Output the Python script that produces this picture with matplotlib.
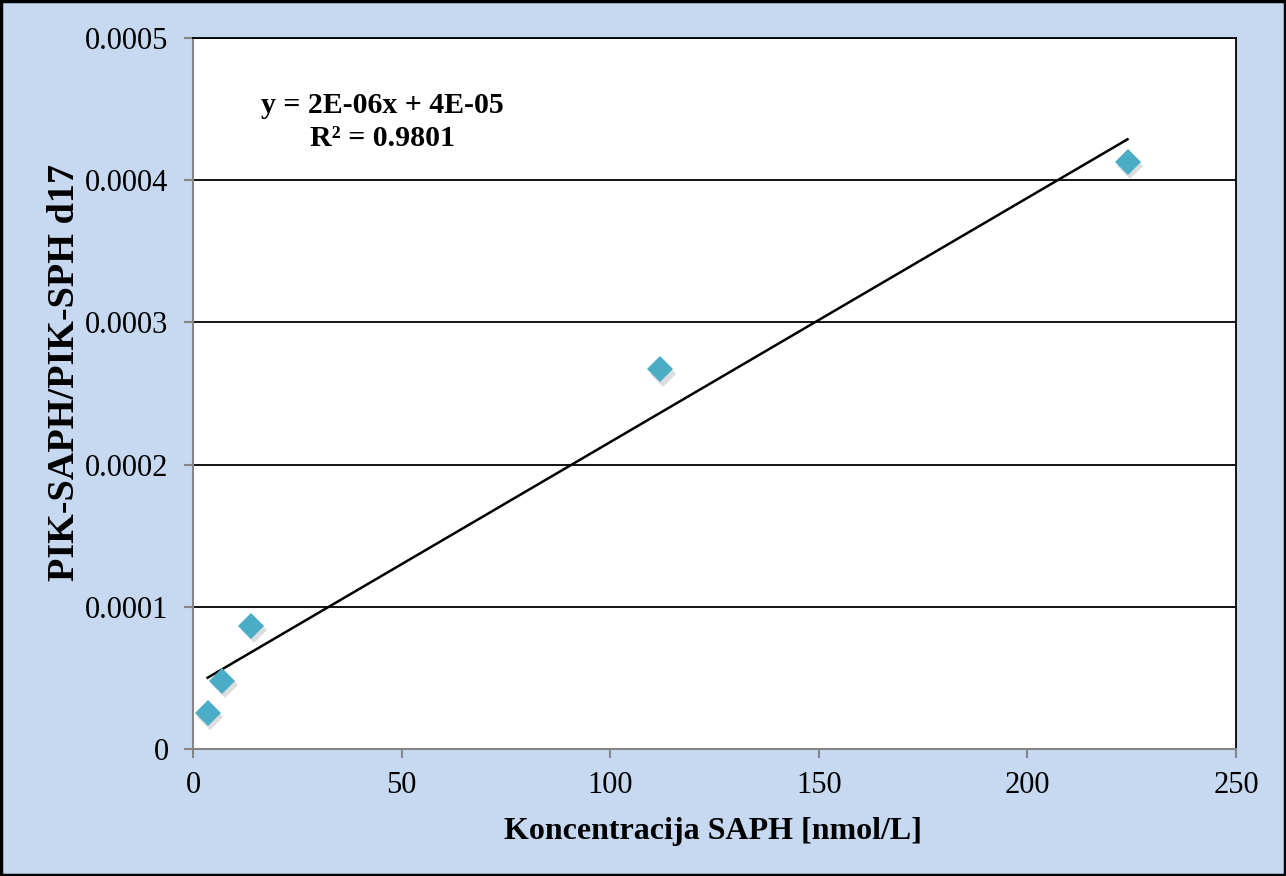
import numpy as np
import matplotlib
matplotlib.use('Agg')
import matplotlib.pyplot as plt
from matplotlib.patches import Rectangle

# Calibration points
konc = [3.5, 7, 14, 112, 224]
ratio = [0.0000253, 0.0000478, 0.0000865, 0.000267, 0.000413]
x_ticks = [0, 50, 100, 150, 200, 250]
y_ticks = [0, 0.0001, 0.0002, 0.0003, 0.0004, 0.0005]
y_tick_labels = ['0', '0.0001', '0.0002', '0.0003', '0.0004', '0.0005']

plt.rcParams['font.family'] = ['Liberation Serif', 'DejaVu Serif']

fig = plt.figure(figsize=(12.86, 8.76), dpi=100)
fig.patch.set_facecolor('#c6d9f1')
fig.patches.append(Rectangle((0.001, 0.001), 0.998, 0.998, transform=fig.transFigure,
                             fill=False, edgecolor='black', linewidth=2.5))

ax = fig.add_axes([0.1501, 0.1450, 0.8110, 0.8116])
ax.set_facecolor('white')
ax.set_xlim(0, 250)
ax.set_ylim(0, 0.0005)

# gridlines
for yv in y_ticks[1:]:
    ax.axhline(yv, color='black', linewidth=1.3, zorder=1)

# trendline
slope, intercept = np.polyfit(konc, ratio, 1)
xs = np.array([min(konc), max(konc)])
ax.plot(xs, slope * xs + intercept, color='black', linewidth=1.8, zorder=2)

# shadow + markers
ax.plot(np.array(konc) + 0.6, np.array(ratio) - 0.000003, linestyle='none', marker='D',
        markersize=13, color='#8a8f94', alpha=0.3, markeredgewidth=0, zorder=3)
ax.plot(konc, ratio, linestyle='none', marker='D', markersize=13,
        color='#4bacc6', markeredgewidth=0, zorder=4)

ax.set_xticks(x_ticks)
ax.set_yticks(y_ticks)
ax.set_yticklabels(y_tick_labels)
ax.tick_params(axis='both', labelsize=22, direction='out', length=6.5, width=1.5,
               color='#868686')
ax.tick_params(axis='x', pad=9)
ax.tick_params(axis='y', pad=11)

for side in ['left', 'bottom']:
    ax.spines[side].set_color('#868686')
    ax.spines[side].set_linewidth(1.5)
for side in ['top', 'right']:
    ax.spines[side].set_color('black')
    ax.spines[side].set_linewidth(1.3)

ax.set_xlabel('Koncentracija SAPH [nmol/L]', fontsize=23, fontweight='bold')
ax.set_ylabel('PIK-SAPH/PIK-SPH d17', fontsize=27.5, fontweight='bold')
ax.xaxis.set_label_coords(0.499, -0.095)
ax.yaxis.set_label_coords(-0.106, 0.530)

ax.text(45.5, 0.000441, 'y = 2E-06x + 4E-05\nR² = 0.9801', fontsize=21.5, fontweight='bold',
        ha='center', va='center', linespacing=1.27)

fig.savefig('out.png', dpi=100, facecolor=fig.get_facecolor())
